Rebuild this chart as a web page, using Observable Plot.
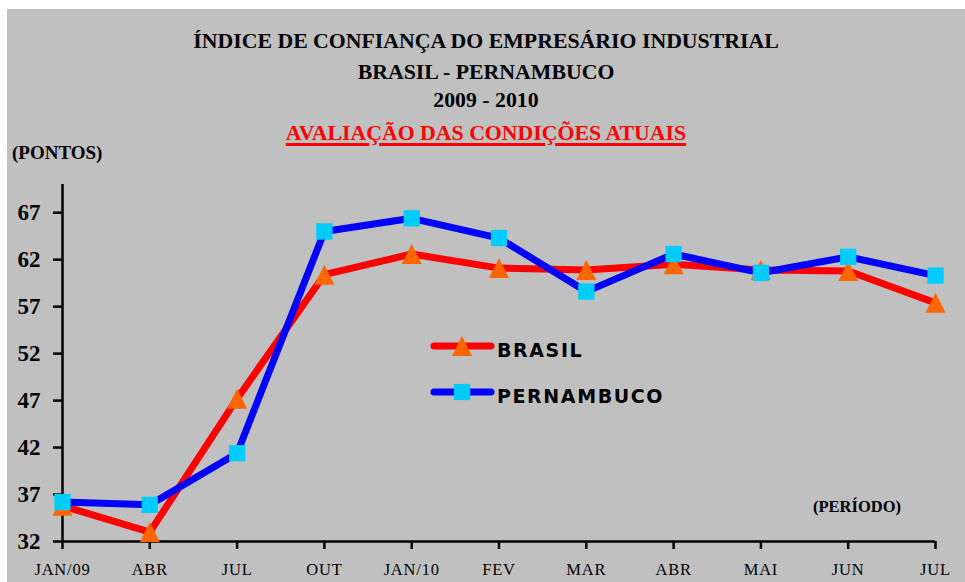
<!DOCTYPE html>
<html>
<head>
<meta charset="utf-8">
<script src="https://cdn.jsdelivr.net/npm/d3@7"></script>
<script src="https://cdn.jsdelivr.net/npm/@observablehq/plot@0.6"></script>
<style>
  html, body { margin: 0; padding: 0; background: #ffffff; }
  #wrap { position: relative; width: 965px; height: 582px; overflow: hidden; }
  #bg { position: absolute; left: 7px; top: 9px; width: 958px; height: 573px; background: #c0c0c0; }
  .t { position: absolute; font-family: "Liberation Serif", serif; font-weight: bold; color: #000; white-space: nowrap; }
  .c { left: 7px; width: 958px; text-align: center; }
  #chart { position: absolute; left: 0; top: 0; }
  #legend { position: absolute; left: 0; top: 0; }
</style>
</head>
<body>
<div id="wrap">
  <div id="bg"></div>
  <div class="t c" style="top:29px;font-size:21.8px;">ÍNDICE DE CONFIANÇA DO EMPRESÁRIO INDUSTRIAL</div>
  <div class="t c" style="top:60px;font-size:21.8px;">BRASIL - PERNAMBUCO</div>
  <div class="t c" style="top:88px;font-size:21.8px;">2009 - 2010</div>
  <div class="t c" style="top:121px;font-size:21.8px;"><span style="color:#ff0000;text-decoration:underline;text-decoration-thickness:3px;text-underline-offset:3px;">AVALIAÇÃO DAS CONDIÇÕES ATUAIS</span></div>
  <div class="t" style="left:12px;top:142px;font-size:19px;">(PONTOS)</div>
  <div class="t" style="left:813px;top:497px;font-size:16.5px;">(PERÍODO)</div>
  <div id="chart"></div>
  <svg id="legend" width="965" height="582"></svg>
</div>
<script>
const periods = ["JAN/09", "ABR", "JUL", "OUT", "JAN/10", "FEV", "MAR", "ABR", "MAI", "JUN", "JUL"];
const brasil = [35.8, 33.0, 47.2, 60.4, 62.6, 61.1, 60.9, 61.5, 60.9, 60.8, 57.4];
const pernambuco = [36.2, 35.9, 41.4, 65.0, 66.4, 64.3, 58.6, 62.6, 60.6, 62.3, 60.3];
const yTicks = [32, 37, 42, 47, 52, 57, 62, 67];
const seriesNames = ["BRASIL", "PERNAMBUCO"];

const idx = periods.map((_, i) => i);
const dataB = idx.map(i => ({i, v: brasil[i]}));
const dataP = idx.map(i => ({i, v: pernambuco[i]}));

// Excel-style triangle: width = height, centred on its bounding box
const excelTriangle = {
  draw(context, size) {
    const w = Math.sqrt(size / Math.PI);
    context.moveTo(0, -w);
    context.lineTo(w, w);
    context.lineTo(-w, w);
    context.closePath();
  }
};

const chart = Plot.plot({
  width: 965,
  height: 582,
  marginLeft: 62,
  marginRight: 30,
  marginTop: 184,
  marginBottom: 41,
  style: {background: "transparent", overflow: "visible"},
  x: {type: "linear", domain: [0, 10]},
  y: {domain: [32, 70]},
  marks: [
    Plot.axisY({
      ticks: yTicks, tickSize: 9, tickPadding: 13, label: null,
      stroke: "#000", strokeWidth: 2.5,
      fontFamily: "Liberation Serif", fontWeight: "bold", fontSize: 23, fill: "#000"
    }),
    Plot.axisX({
      ticks: idx, tickSize: 8, tickPadding: 14, label: null,
      tickFormat: i => periods[i],
      stroke: "#000", strokeWidth: 2.5,
      fontFamily: "Liberation Serif", fontSize: 16.5, fill: "#000"
    }),
    Plot.ruleX([0], {y1: 32, y2: 70, stroke: "#000", strokeWidth: 2.5}),
    Plot.ruleY([32], {x1: 0, x2: 10, stroke: "#000", strokeWidth: 2.5}),
    Plot.line(dataB, {x: "i", y: "v", stroke: "#ff0000", strokeWidth: 7, strokeLinejoin: "round"}),
    Plot.line(dataP, {x: "i", y: "v", stroke: "#0000ff", strokeWidth: 7, strokeLinejoin: "round"}),
    Plot.dot(dataB, {x: "i", y: "v", symbol: excelTriangle, r: 10, fill: "#ff6600", stroke: "none"}),
    Plot.dot(dataP, {x: "i", y: "v", symbol: "square", r: 9.2, fill: "#00ccff", stroke: "none"})
  ]
});
chart.querySelectorAll("g[aria-label='x-axis tick label'] text").forEach(t => t.style.letterSpacing = "0.8px");
document.getElementById("chart").appendChild(chart);

// Legend
const lg = d3.select("#legend");
const legendItems = [
  {name: seriesNames[0], stroke: "#ff0000", fill: "#ff6600", sym: excelTriangle, size: 10 * 10 * Math.PI, y: 346},
  {name: seriesNames[1], stroke: "#0000ff", fill: "#00ccff", sym: d3.symbolSquare, size: 9.2 * 9.2 * Math.PI, y: 392}
];
legendItems.forEach(d => {
  lg.append("line").attr("x1", 434).attr("x2", 491).attr("y1", d.y).attr("y2", d.y)
    .attr("stroke", d.stroke).attr("stroke-width", 7).attr("stroke-linecap", "round");
  lg.append("path").attr("d", d3.symbol(d.sym, d.size)()).attr("transform", `translate(462,${d.y})`).attr("fill", d.fill);
  lg.append("text").attr("x", 497).attr("y", d.y + 10.5).text(d.name)
    .attr("font-family", "DejaVu Sans").attr("font-weight", "bold").attr("font-size", 19)
    .attr("letter-spacing", "1.6px").attr("fill", "#000");
});
</script>
</body>
</html>
